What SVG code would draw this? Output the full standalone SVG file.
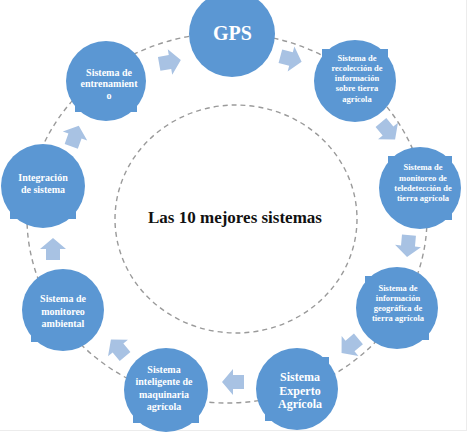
<svg xmlns="http://www.w3.org/2000/svg" width="474" height="435" viewBox="0 0 474 435">
<style>
.node{fill:#5b97d3}
.arrow{fill:#a8c2e3}
.dash{fill:none;stroke:#9a9a9a;stroke-width:1.4;stroke-dasharray:5 4}
.t{font-family:"Liberation Serif","Times New Roman",serif;font-weight:bold;fill:#ffffff;text-anchor:middle}
.s{font-size:8.5px}
.m{font-size:10px}
.title{font-family:"Liberation Serif","Times New Roman",serif;font-weight:bold;font-size:17px;fill:#111111;text-anchor:middle}
</style>
<defs>
<polygon id="arr" class="arrow" points="-11,-7 0,-7 0,-13 11,0 0,13 0,7 -11,7"/>
</defs>
<rect x="0" y="0" width="474" height="435" fill="#ffffff"/>
<line x1="466.5" y1="0" x2="466.5" y2="430" stroke="#ececec" stroke-width="1"/>
<line x1="0" y1="430.5" x2="467" y2="430.5" stroke="#ececec" stroke-width="1"/>
<g id="connectors">
<ellipse class="dash" cx="227" cy="218" rx="200" ry="185"/>
<ellipse class="dash" cx="236" cy="219" rx="121" ry="114"/>
<use href="#arr" transform="translate(291,59) rotate(15)"/>
<use href="#arr" transform="translate(388,131) rotate(50)"/>
<use href="#arr" transform="translate(408,246) rotate(95)"/>
<use href="#arr" transform="translate(350,346) rotate(140)"/>
<use href="#arr" transform="translate(233,382) rotate(180)"/>
<use href="#arr" transform="translate(118,348) rotate(-130)"/>
<use href="#arr" transform="translate(53,249) rotate(-90)"/>
<use href="#arr" transform="translate(75,136) rotate(-70)"/>
<use href="#arr" transform="translate(170,62) rotate(-10)"/>
</g>
<g id="center">
<text class="title" x="235" y="223">Las 10 mejores sistemas</text>
</g>
<g id="n1">
<circle class="node" cx="232" cy="34" r="43"/>
<text class="t" x="232.5" y="40" font-size="20">GPS</text>
</g>
<g id="n2">
<circle class="node" cx="355" cy="81" r="41"/>
<rect class="node" x="322" y="49" width="20" height="20"/>
<rect class="node" x="368" y="49" width="20" height="20"/>
<text class="t s" x="357" y="61">Sistema de</text>
<text class="t s" x="357" y="71">recolección de</text>
<text class="t s" x="357" y="81">información</text>
<text class="t s" x="357" y="91">sobre tierra</text>
<text class="t s" x="357" y="101.5">agrícola</text>
</g>
<g id="n3">
<circle class="node" cx="420" cy="188" r="41"/>
<rect class="node" x="388" y="156" width="20" height="20"/>
<rect class="node" x="432" y="156" width="20" height="20"/>
<rect class="node" x="432" y="200" width="20" height="20"/>
<text class="t s" x="423" y="170">Sistema de</text>
<text class="t s" x="423" y="181">monitoreo de</text>
<text class="t s" x="423" y="191">teledetección de</text>
<text class="t s" x="423" y="201">tierra agrícola</text>
</g>
<g id="n4">
<circle class="node" cx="397" cy="308" r="41"/>
<rect class="node" x="365" y="276" width="20" height="20"/>
<rect class="node" x="409" y="320" width="20" height="20"/>
<text class="t s" x="398" y="291">Sistema de</text>
<text class="t s" x="398" y="301">información</text>
<text class="t s" x="398" y="311">geográfica de</text>
<text class="t s" x="398" y="321">tierra agrícola</text>
</g>
<g id="n5">
<circle class="node" cx="297" cy="389" r="41"/>
<rect class="node" x="309" y="357" width="20" height="20"/>
<rect class="node" x="265" y="401" width="20" height="20"/>
<text class="t" x="300" y="381" font-size="12">Sistema</text>
<text class="t" x="300" y="395" font-size="12">Experto</text>
<text class="t" x="300" y="408" font-size="12">Agrícola</text>
</g>
<g id="n6">
<circle class="node" cx="166" cy="390" r="42"/>
<rect class="node" x="133" y="402" width="21" height="21"/>
<rect class="node" x="178" y="402" width="21" height="21"/>
<text class="t m" x="164" y="372.5">Sistema</text>
<text class="t m" x="164" y="385">inteligente de</text>
<text class="t m" x="164" y="397.5">maquinaria</text>
<text class="t m" x="164" y="410">agrícola</text>
</g>
<g id="n7">
<circle class="node" cx="63" cy="310" r="41"/>
<rect class="node" x="31" y="322" width="20" height="20"/>
<text class="t m" x="63" y="301.5">Sistema de</text>
<text class="t m" x="63" y="314.5">monitoreo</text>
<text class="t m" x="63" y="326.5">ambiental</text>
</g>
<g id="n8">
<circle class="node" cx="43" cy="186" r="42"/>
<rect class="node" x="10" y="198" width="21" height="21"/>
<rect class="node" x="55" y="198" width="21" height="21"/>
<text class="t m" x="43" y="180.5">Integración</text>
<text class="t m" x="43" y="192.5">de sistema</text>
</g>
<g id="n9">
<circle class="node" cx="106" cy="81" r="40"/>
<rect class="node" x="75" y="92" width="20" height="20"/>
<rect class="node" x="117" y="92" width="20" height="20"/>
<text class="t m" x="109" y="75.5">Sistema de</text>
<text class="t m" x="109" y="87">entrenamient</text>
<text class="t m" x="109" y="98.5">o</text>
</g>
</svg>
